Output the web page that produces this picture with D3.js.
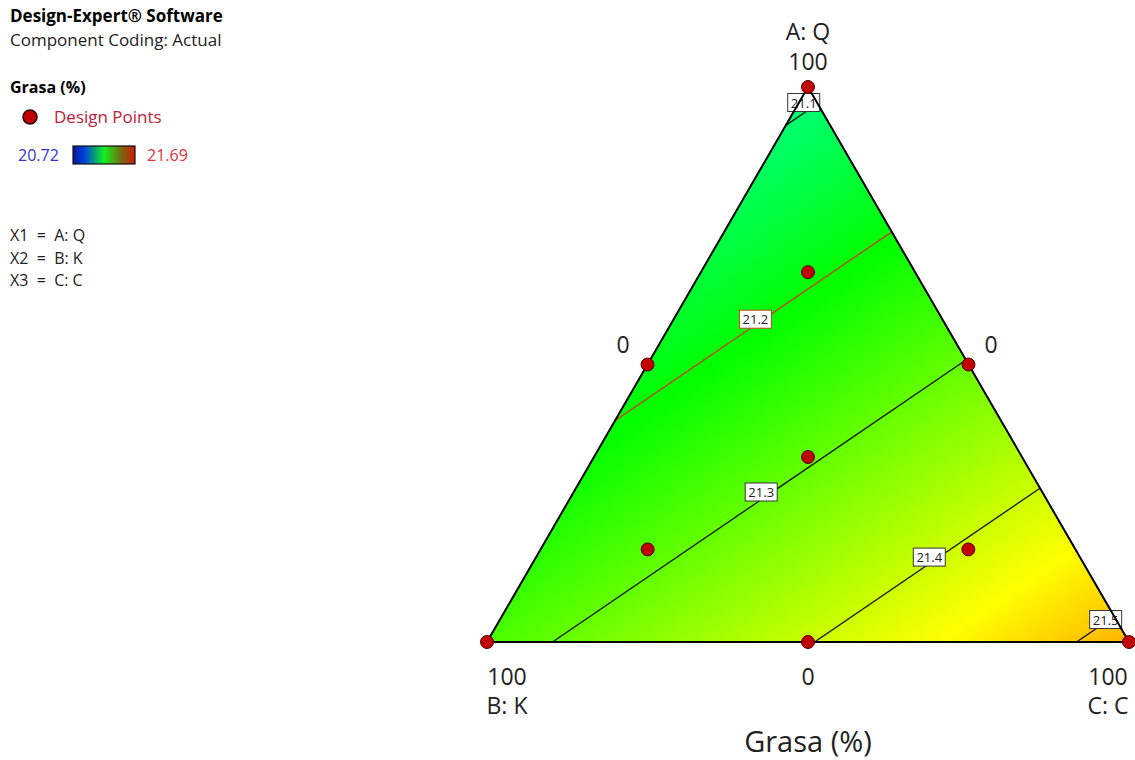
<!DOCTYPE html>
<html>
<head>
<meta charset="utf-8">
<script src="https://cdn.jsdelivr.net/npm/d3@7/dist/d3.min.js"></script>
<style>
  body { margin: 0; background: #fff; }
  svg { font-family: "Open Sans", "Noto Sans", sans-serif; }
</style>
</head>
<body>
<div id="chart"></div>
<script>
// component names and tick labels
const componentNames = ["A: Q", "B: K", "C: C"];
const tickLabels = ["100", "0", "0", "100", "0", "100"];
const factorLines = ["X1 = A: Q", "X2 = B: K", "X3 = C: C"];

// design points (A, B, C in %)
const designPoints = [
  [100, 0, 0], [0, 100, 0], [0, 0, 100],
  [50, 50, 0], [50, 0, 50], [0, 50, 50],
  [33.3, 33.3, 33.3],
  [66.7, 16.7, 16.7], [16.7, 66.7, 16.7], [16.7, 16.7, 66.7]
];

// linear mixture model coefficients (A, B, C)
const modelCoef = [21.087, 21.275, 21.52];
const contourLevels = [21.1, 21.2, 21.3, 21.4, 21.5];
const legendRange = [20.72, 21.69];

const width = 1135, height = 760;

const svg = d3.select("#chart").append("svg")
  .attr("width", width).attr("height", height);

// scales: baseline (B->C) and height (A fraction)
const xScale = d3.scaleLinear().domain([0, 1]).range([487, 1129]);
const yScale = d3.scaleLinear().domain([0, 1]).range([642, 87]);
const toXY = (a, b, c) => {
  const s = a + b + c;
  a /= s; c /= s;
  return [xScale(c + a / 2), yScale(a)];
};
const model = (a, b, c) => modelCoef[0] * a + modelCoef[1] * b + modelCoef[2] * c;

const mid = (legendRange[0] + legendRange[1]) / 2;
const colorScale = d3.scaleLinear()
  .domain([legendRange[0], (legendRange[0] + mid) / 2, mid, (mid + legendRange[1]) / 2, legendRange[1]])
  .range(["#0000ff", "#00ffff", "#00ff00", "#ffff00", "#ff0000"])
  .clamp(true);

// shaded surface drawn to a canvas then used as an image
const x0 = 487, y0 = 87, cw = 643, ch = 556;
const canvas = document.createElement("canvas");
canvas.width = cw; canvas.height = ch;
const ctx = canvas.getContext("2d");
const img = ctx.createImageData(cw, ch);
for (let j = 0; j < ch; j++) {
  for (let i = 0; i < cw; i++) {
    const a = yScale.invert(y0 + j + 0.5);
    const c = xScale.invert(x0 + i + 0.5) - a / 2;
    const b = 1 - a - c;
    const col = d3.rgb(colorScale(model(a, b, c)));
    const k = (j * cw + i) * 4;
    img.data[k] = col.r; img.data[k + 1] = col.g; img.data[k + 2] = col.b; img.data[k + 3] = 255;
  }
}
ctx.putImageData(img, 0, 0);

const tri = [toXY(1, 0, 0), toXY(0, 1, 0), toXY(0, 0, 1)];
svg.append("clipPath").attr("id", "triClip")
  .append("polygon").attr("points", tri.map(p => p.join(",")).join(" "));

svg.append("image")
  .attr("x", x0).attr("y", y0).attr("width", cw).attr("height", ch)
  .attr("href", canvas.toDataURL())
  .attr("clip-path", "url(#triClip)");

// contour lines: intersections of each level with triangle edges
const edges = [[[1, 0, 0], [0, 1, 0]], [[0, 1, 0], [0, 0, 1]], [[0, 0, 1], [1, 0, 0]]];
const labelT = { 21.1: 0.5, 21.2: 0.5, 21.3: 0.5, 21.4: 0.5, 21.5: 0.72 };
const labelDy = { 21.1: -12, 21.2: -7, 21.3: -9, 21.4: -8, 21.5: -4 };

const contourG = svg.append("g");
const labelG = svg.append("g");
contourLevels.forEach(level => {
  const pts = [];
  edges.forEach(([p, q]) => {
    const fp = model(...p), fq = model(...q);
    if ((fp - level) * (fq - level) <= 0 && fp !== fq) {
      const t = (level - fp) / (fq - fp);
      pts.push(toXY(p[0] + t * (q[0] - p[0]), p[1] + t * (q[1] - p[1]), p[2] + t * (q[2] - p[2])));
    }
  });
  if (pts.length < 2) return;
  const stroke = level === 21.2 ? "#c0461e" : "#111";
  contourG.append("line")
    .attr("x1", pts[0][0]).attr("y1", pts[0][1])
    .attr("x2", pts[1][0]).attr("y2", pts[1][1])
    .attr("stroke", stroke).attr("stroke-width", 1.3);
  const t = labelT[level];
  const lx = pts[0][0] + t * (pts[1][0] - pts[0][0]) + 2;
  const ly = pts[0][1] + t * (pts[1][1] - pts[0][1]) + (labelDy[level] || 0);
  labelG.append("rect")
    .attr("x", lx - 16).attr("y", ly - 9).attr("width", 32).attr("height", 18)
    .attr("fill", "#fff").attr("stroke", level === 21.2 ? "#c0461e" : "#333").attr("stroke-width", 1);
  labelG.append("text")
    .attr("x", lx).attr("y", ly + 5)
    .attr("text-anchor", "middle").style("font-size", "13px").attr("fill", "#222")
    .text(level);
});

// triangle border
svg.append("polygon")
  .attr("points", tri.map(p => p.join(",")).join(" "))
  .attr("fill", "none").attr("stroke", "#000").attr("stroke-width", 2);

// design points
svg.append("g").selectAll("circle")
  .data(designPoints)
  .join("circle")
  .attr("cx", d => toXY(...d)[0])
  .attr("cy", d => toXY(...d)[1])
  .attr("r", 6.5)
  .attr("fill", "#c00000").attr("stroke", "#500").attr("stroke-width", 1);

// tick labels
const tickPos = [[808, 70], [623, 353], [991, 353], [507, 685], [808, 685], [1108, 685]];
svg.append("g").selectAll("text")
  .data(tickLabels)
  .join("text")
  .attr("x", (d, i) => tickPos[i][0]).attr("y", (d, i) => tickPos[i][1])
  .attr("text-anchor", "middle").style("font-size", "23px").attr("fill", "#222")
  .text(d => d);

const namePos = [[808, 40], [507, 714], [1108, 714]];
svg.append("g").selectAll("text")
  .data(componentNames)
  .join("text")
  .attr("x", (d, i) => namePos[i][0]).attr("y", (d, i) => namePos[i][1])
  .attr("text-anchor", "middle").style("font-size", "23px").attr("fill", "#222")
  .text(d => d);

svg.append("text")
  .attr("x", 808).attr("y", 752)
  .attr("text-anchor", "middle").style("font-size", "29px").attr("fill", "#222")
  .text("Grasa (%)");

// legend panel
svg.append("text").attr("x", 10).attr("y", 22)
  .style("font-size", "17px").style("font-weight", "bold").text("Design-Expert® Software");
svg.append("text").attr("x", 10).attr("y", 46)
  .style("font-size", "17px").attr("fill", "#222").text("Component Coding: Actual");
svg.append("text").attr("x", 10).attr("y", 93)
  .style("font-size", "16px").style("font-weight", "bold").text("Grasa (%)");
svg.append("circle").attr("cx", 30).attr("cy", 117).attr("r", 7)
  .attr("fill", "#c00000").attr("stroke", "#200").attr("stroke-width", 1.5);
svg.append("text").attr("x", 54).attr("y", 123)
  .style("font-size", "17px").attr("fill", "#c0203a").text("Design Points");

const grad = svg.append("defs").append("linearGradient").attr("id", "legGrad");
[["0%", "#0a1890"], ["18%", "#0040e0"], ["50%", "#10f020"], ["80%", "#806010"], ["100%", "#d01800"]]
  .forEach(([o, c]) => grad.append("stop").attr("offset", o).attr("stop-color", c));
svg.append("rect").attr("x", 73).attr("y", 146).attr("width", 62).attr("height", 18)
  .attr("fill", "url(#legGrad)").attr("stroke", "#111").attr("stroke-width", 1.2);
svg.append("text").attr("x", 18).attr("y", 161)
  .style("font-size", "16px").attr("fill", "#3434d0").text(legendRange[0].toFixed(2));
svg.append("text").attr("x", 147).attr("y", 161)
  .style("font-size", "16px").attr("fill", "#e0303a").text(legendRange[1].toFixed(2));

svg.append("g").selectAll("text")
  .data(factorLines)
  .join("text")
  .attr("x", 10).attr("y", (d, i) => 241 + i * 22.5)
  .style("font-size", "16px").attr("fill", "#222")
  .text(d => d.replace(/ = /, "  =  "))
  .style("white-space", "pre");
</script>
</body>
</html>
